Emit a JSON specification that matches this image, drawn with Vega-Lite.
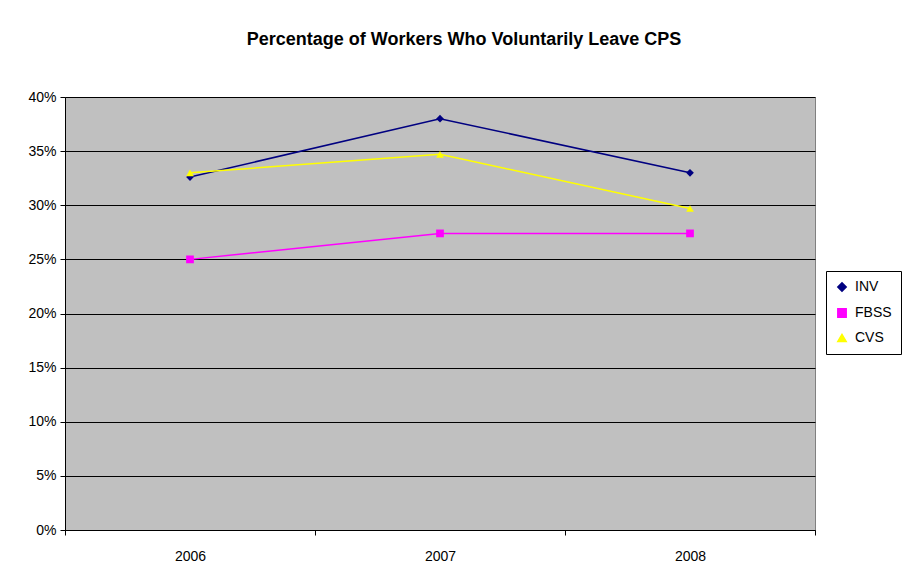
{
  "$schema": "https://vega.github.io/schema/vega-lite/v6.json",
  "width": 750,
  "height": 433,
  "autosize": {"type": "none"},
  "padding": {"left": 65, "top": 97, "right": 104, "bottom": 52},
  "background": "white",
  "title": {
    "text": "Percentage of Workers Who Voluntarily Leave CPS",
    "font": "Liberation Sans",
    "fontSize": 18,
    "fontWeight": "bold",
    "color": "black",
    "anchor": "middle",
    "offset": 41,
    "dx": 24
  },
  "config": {
    "view": {"fill": "#C0C0C0", "stroke": "#808080", "strokeWidth": 1},
    "axis": {
      "labelFont": "Liberation Sans",
      "labelFontSize": 14,
      "labelColor": "black",
      "domainColor": "black",
      "tickColor": "black",
      "title": null
    }
  },
  "data": {
    "values": [
      {"year": "2006", "series": "INV", "value": 0.326},
      {"year": "2007", "series": "INV", "value": 0.380},
      {"year": "2008", "series": "INV", "value": 0.330},
      {"year": "2006", "series": "FBSS", "value": 0.250},
      {"year": "2007", "series": "FBSS", "value": 0.274},
      {"year": "2008", "series": "FBSS", "value": 0.274},
      {"year": "2006", "series": "CVS", "value": 0.330},
      {"year": "2007", "series": "CVS", "value": 0.347},
      {"year": "2008", "series": "CVS", "value": 0.297}
    ]
  },
  "encoding": {
    "x": {
      "field": "year",
      "type": "nominal",
      "scale": {"paddingInner": 0, "paddingOuter": 0},
      "axis": {"labelAngle": 0, "tickBand": "extent", "tickSize": 5, "labelPadding": 14, "grid": false}
    },
    "y": {
      "field": "value",
      "type": "quantitative",
      "scale": {"domain": [0, 0.4]},
      "axis": {"format": ".0%", "values": [0, 0.05, 0.1, 0.15, 0.2, 0.25, 0.3, 0.35, 0.4], "grid": true, "gridColor": "black", "gridOpacity": 1, "tickSize": 5, "labelPadding": 4}
    },
    "color": {
      "field": "series",
      "type": "nominal",
      "scale": {"domain": ["INV", "FBSS", "CVS"], "range": ["#000080", "#FF00FF", "#FFFF00"]},
      "legend": {
        "orient": "none",
        "legendX": 761,
        "legendY": 174,
        "title": null,
        "strokeColor": "black",
        "fillColor": "white",
        "padding": 9,
        "labelFont": "Liberation Sans",
        "labelFontSize": 14,
        "labelColor": "black",
        "symbolSize": 70,
        "rowPadding": 10,
        "labelOffset": 6
      }
    }
  },
  "layer": [
    {"mark": {"type": "line", "strokeWidth": 1.5}},
    {
      "mark": {"type": "point", "filled": true, "opacity": 1, "size": 60},
      "encoding": {
        "shape": {
          "field": "series",
          "type": "nominal",
          "scale": {"domain": ["INV", "FBSS", "CVS"], "range": ["diamond", "square", "triangle-up"]},
          "legend": {
            "orient": "none",
            "legendX": 761,
            "legendY": 174,
            "title": null,
            "strokeColor": "black",
            "fillColor": "white",
            "padding": 9,
            "labelFont": "Liberation Sans",
            "labelFontSize": 14,
            "labelColor": "black",
            "symbolSize": 70,
            "rowPadding": 10,
            "labelOffset": 6
          }
        }
      }
    }
  ]
}
